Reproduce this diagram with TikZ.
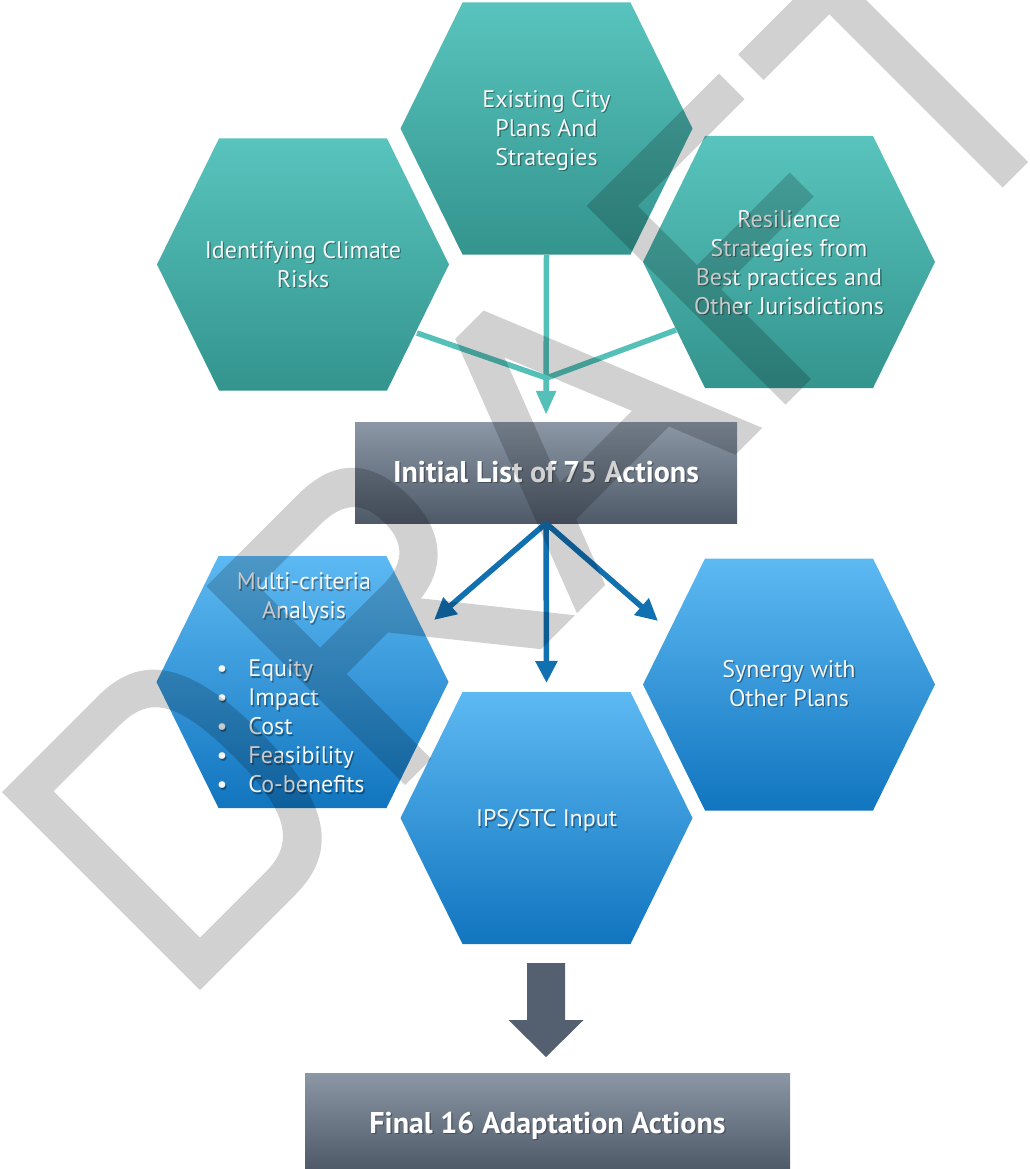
\documentclass[tikz,border=0pt]{standalone}
\usepackage{fontspec}
\setmainfont{PT Sans}
\usetikzlibrary{arrows.meta,calc}
\definecolor{tealtop}{RGB}{88,196,189}
\definecolor{tealbot}{RGB}{52,148,142}
\definecolor{tealline}{RGB}{84,192,184}
\definecolor{bluetop}{RGB}{93,185,242}
\definecolor{bluebot}{RGB}{17,117,191}
\definecolor{bluearrow}{RGB}{16,112,176}
\definecolor{slatetop}{RGB}{139,151,165}
\definecolor{slatebot}{RGB}{79,90,105}
\definecolor{slate}{RGB}{84,96,112}
\definecolor{txtwhite}{RGB}{246,246,246}
\newcommand\txtA{\strut Identifying Climate\\\strut Risks}
\newcommand\txtB{\strut Existing City\\\strut Plans And\\\strut Strategies}
\newcommand\txtC{\strut Resilience\\\strut Strategies from\\\strut Best practices and\\\strut Other Jurisdictions}
\newcommand\bitem[1]{\makebox[175pt][l]{\strut\makebox[32pt][l]{\textbullet}#1}}
\newcommand\txtD{\strut Multi-criteria\\\strut Analysis\\\strut\\\bitem{Equity}\\\bitem{Impact}\\\bitem{Cost}\\\bitem{Feasibility}\\\bitem{Co-benefits}}
\newcommand\txtE{\strut Synergy with\\\strut Other Plans}
\newcommand\txtF{\strut IPS/STC Input}
\begin{document}
\begin{tikzpicture}[x=1pt,y=1pt,
  hexshape/.style={insert path={++(-146,0) -- ++(62,126) -- ++(168,0) -- ++(62,-126) -- ++(-62,-126) -- ++(-168,0) -- cycle}},
  tealhex/.style={top color=tealtop, bottom color=tealbot, draw=none},
  bluehex/.style={top color=bluetop, bottom color=bluebot, draw=none},
  hextxt/.style={align=center, inner sep=0pt, text=txtwhite, font=\fontsize{24}{29}\selectfont},
  hexshadow/.style={hextxt, text=black, opacity=0.35, xshift=1.3pt, yshift=-1.5pt},
  boxnode/.style={top color=slatetop, bottom color=slatebot, draw=none, inner sep=0pt,
     text=white, font=\bfseries\fontsize{30}{34}\selectfont},
  boxshadow/.style={inner sep=0pt, text=black, opacity=0.3, font=\bfseries\fontsize{30}{34}\selectfont},
  tealconn/.style={draw=tealline, line width=5.5pt},
  tealarrow/.style={tealconn, -{Triangle[length=24pt,width=19pt]}},
  bluearr/.style={draw=bluearrow, line width=5.5pt, -{Triangle[length=22pt,width=21pt]}}
]
\useasboundingbox (0,-1169) rectangle (1029,0);

% hexagon centres
\coordinate (c1) at (303,-264.5);
\coordinate (c2) at (546.5,-128.5);
\coordinate (c3) at (789,-262);
\coordinate (c4) at (302.5,-682);
\coordinate (c5) at (789,-684.5);
\coordinate (c6) at (546.5,-818);

% teal hexagons
\path[tealhex] (c1) [hexshape];
\path[tealhex] (c2) [hexshape];
\path[tealhex] (c3) [hexshape];
% blue hexagons
\path[bluehex] (c4) [hexshape];
\path[bluehex] (c5) [hexshape];
\path[bluehex] (c6) [hexshape];

% text shadows
\node[hexshadow] (s1) at (303,-266.7) {\txtA};
\node[hexshadow] (s2) at (546.5,-130.7) {\txtB};
\node[hexshadow] (s3) at (789,-264.7) {\txtC};
\node[hexshadow] (s4) at (304,-685.2) {\txtD};
\node[hexshadow] (s5) at (789,-685.7) {\txtE};
\node[hexshadow] (s6) at (546.5,-820.7) {\txtF};
% texts
\node[hextxt] (h1) at (303,-266.7) {\txtA};
\node[hextxt] (h2) at (546.5,-130.7) {\txtB};
\node[hextxt] (h3) at (789,-264.7) {\txtC};
\node[hextxt] (h4) at (304,-685.2) {\txtD};
\node[hextxt] (h5) at (789,-685.7) {\txtE};
\node[hextxt] (h6) at (546.5,-820.7) {\txtF};

% boxes
\node[boxnode, minimum width=382pt, minimum height=101pt, text height=19pt, text depth=0pt] (r1) at (546,-472.5) {};
\node[boxnode, minimum width=485pt, minimum height=96pt, text height=25pt, text depth=0pt] (r2) at (547.5,-1121) {};
\node[boxshadow, anchor=base, xshift=1.3pt, yshift=-1.5pt] (b1s) at (546,-482) {Initial List of 75 Actions};
\node[boxshadow, anchor=base, xshift=1.3pt, yshift=-1.5pt] (b2s) at (547.5,-1133) {Final 16 Adaptation Actions};
\node[inner sep=0pt, text=white, font=\bfseries\fontsize{30}{34}\selectfont, anchor=base] (b1) at (546,-482) {Initial List of 75 Actions};
\node[inner sep=0pt, text=white, font=\bfseries\fontsize{30}{34}\selectfont, anchor=base] (b2) at (547.5,-1133) {Final 16 Adaptation Actions};

% teal connectors
\coordinate (J) at (546.5,-378);
\coordinate (e1) at (417,-333);
\coordinate (e3) at (676,-330);
\coordinate (e2) at (546.5,-255);
\draw[tealconn] (e1) -- (J);
\draw[tealconn] (e3) -- (J);
\draw[tealarrow, shorten >=7pt] (e2) -- (r1.north);

% blue connectors
\coordinate (t1) at (434,-620);
\coordinate (t2) at (546.5,-683);
\coordinate (t3) at (658,-621);
\draw[bluearr] (r1.south) -- (t1);
\draw[bluearr] (r1.south) -- (t2);
\draw[bluearr] (r1.south) -- (t3);

% block arrow
\fill[slate] (527,-963) -- (565,-963) -- (565,-1020) -- (583.5,-1020) -- (546,-1057) -- (508.5,-1020) -- (527,-1020) -- cycle;

% DRAFT watermark
\begin{scope}
\clip (0,-1169) rectangle (1029,0);
\begin{scope}[transparency group, opacity=0.18, shift={(200,-990)}, rotate=45]
% D
\fill[black, even odd rule] (0,0) -- (0,280) -- (135,280) .. controls (190,280) and (225,250) .. (225,140) .. controls (225,40) and (195,0) .. (135,0) -- cycle
  (37,37) -- (37,244) -- (130,244) .. controls (170,244) and (189,225) .. (189,140) .. controls (189,62) and (170,37) .. (130,37) -- cycle;
% R
\fill[black] (290,0) rectangle (327,281);
\fill[black, even odd rule] (310,281) -- (420,281) .. controls (475,281) and (497,250) .. (497,200) .. controls (497,150) and (470,120) .. (420,120) -- (310,120) -- cycle
   (320,244) -- (415,244) .. controls (448,244) and (461,228) .. (461,200) .. controls (461,173) and (448,157) .. (415,157) -- (320,157) -- cycle;
\fill[black] (356,157) -- (404,157) -- (530,0) -- (482,0) -- cycle;
% A
\fill[black, even odd rule] (533,0) -- (641,280) -- (681,280) -- (795,0) -- (757,0) -- (730,67) -- (599,67) -- (573,0) -- cycle
  (613,104) -- (662.6,232) -- (715,104) -- cycle;
% F
\fill[black] (828,0) rectangle (864,281);
\fill[black] (828,245) rectangle (1015,281);
\fill[black] (828,127) rectangle (995,161);
% T
\fill[black] (1042,245) rectangle (1265,281);
\fill[black] (1135,0) rectangle (1171,281);
\end{scope}
\end{scope}
\end{tikzpicture}
\end{document}
